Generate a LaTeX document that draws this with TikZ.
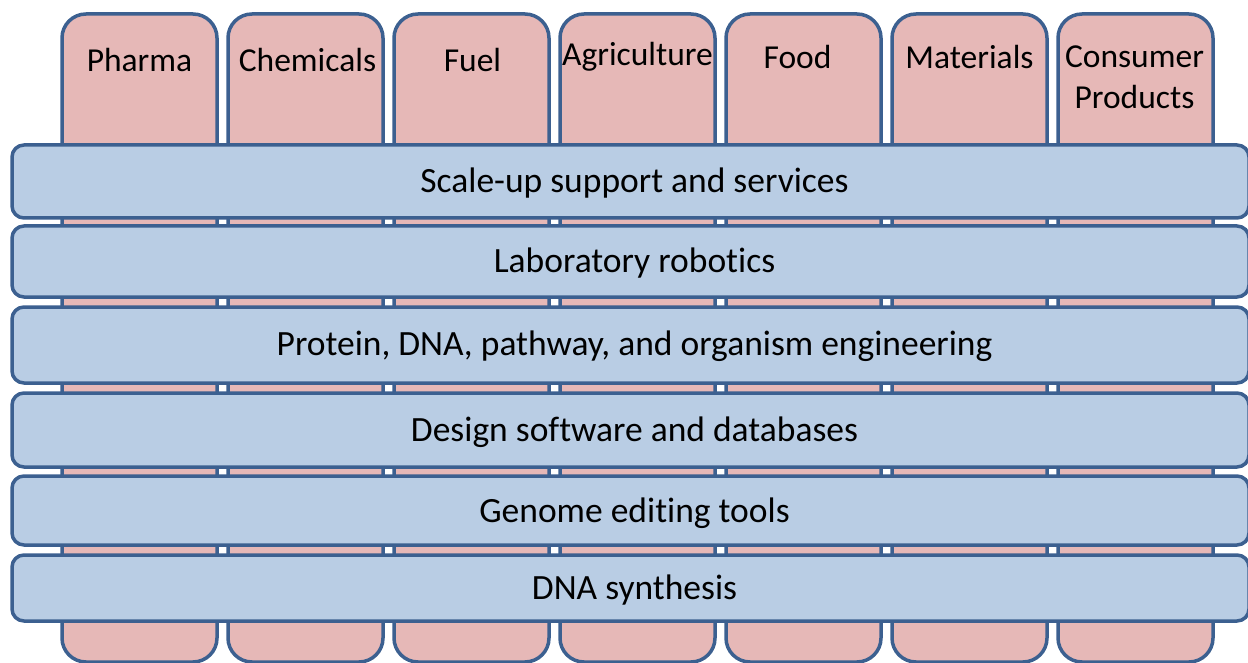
\documentclass[tikz,border=0pt]{standalone}
\usepackage{fontspec}
\setmainfont{Carlito}[Ligatures=NoCommon]
\definecolor{edge}{HTML}{3C6090}
\definecolor{sectorfill}{HTML}{E6B8B7}
\definecolor{layerfill}{HTML}{B9CDE4}
\begin{document}
\begin{tikzpicture}[x=1pt,y=-1pt,
  sector/.style={draw=edge,fill=sectorfill,line width=3.5pt,rounded corners=24pt,
    minimum width=155pt,minimum height=648pt,inner sep=0pt},
  layer/.style={draw=edge,fill=layerfill,line width=3.5pt,rounded corners=12pt,
    minimum width=1237pt,inner sep=0pt},
  tag/.style={font=\fontsize{33.5}{41}\selectfont,align=center,inner sep=0pt},
  layertext/.style={font=\fontsize{35.5}{42}\selectfont,inner sep=0pt}]
\useasboundingbox (0,0) rectangle (1248,663);
% industry columns
\foreach \i/\name in {0/ph,1/ch,2/fu,3/ag,4/fo,5/ma,6/cp}{
  \node[sector] (\name) at ({139.5+166*\i},338) {};
}
\node[tag] (tph) at (139.5,60) {Pharma};
\node[tag] (tch) at (307.5,60) {Chemicals};
\node[tag] (tfu) at (472.5,60) {Fuel};
\node[tag] (tag) at (637.5,57) {Agriculture};
\node[tag] (tfo) at (797.5,57) {Food};
\node[tag] (tma) at (969.5,57) {Materials};
\node[tag] (tcp) at (1134.5,77) {Consumer\\Products};
% technology layers
\node[layer,minimum height=73pt] (l1) at (630.5,181.5) {};
\node[layer,minimum height=71pt] (l2) at (630.5,261.5) {};
\node[layer,minimum height=76pt] (l3) at (630.5,345) {};
\node[layer,minimum height=74pt] (l4) at (630.5,430) {};
\node[layer,minimum height=69pt] (l5) at (630.5,510.5) {};
\node[layer,minimum height=66pt] (l6) at (630.5,588) {};
\node[layertext] (t1) at (634.5,183.5) {Scale-up support and services};
\node[layertext] (t2) at (634.5,263.5) {Laboratory robotics};
\node[layertext] (t3) at (634.5,346.5) {Protein, DNA, pathway, and organism engineering};
\node[layertext] (t4) at (634.5,432) {Design software and databases};
\node[layertext] (t5) at (634.5,513) {Genome editing tools};
\node[layertext] (t6) at (634.5,590) {DNA synthesis};
\end{tikzpicture}
\end{document}
